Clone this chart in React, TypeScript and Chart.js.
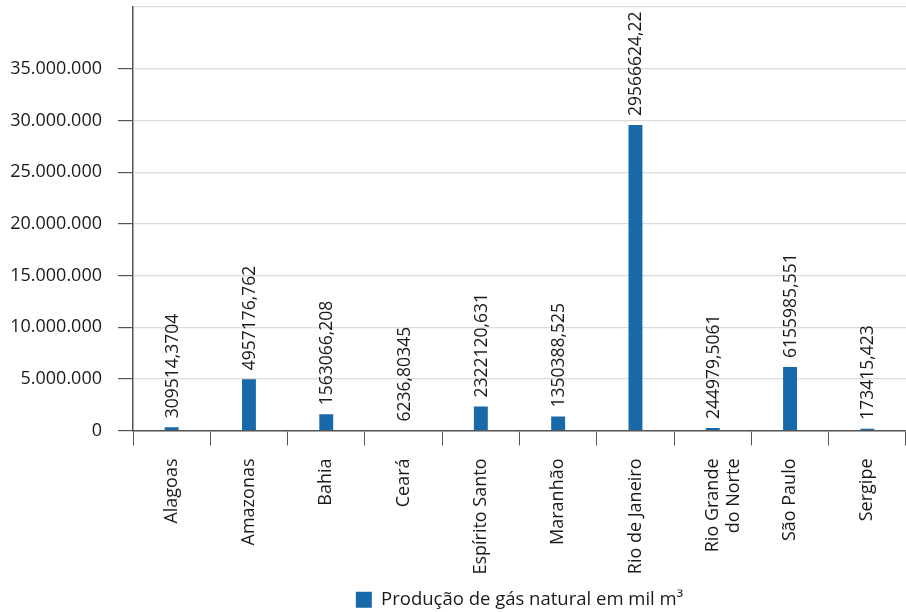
import React, { useEffect, useRef } from "react";
import { Chart, registerables } from "chart.js";

Chart.register(...registerables);

const categories: (string | string[])[] = [
  "Alagoas",
  "Amazonas",
  "Bahia",
  "Ceará",
  "Espírito Santo",
  "Maranhão",
  "Rio de Janeiro",
  ["Rio Grande", "do Norte"],
  "São Paulo",
  "Sergipe",
];

const gasValues: number[] = [
  309514.3704, 4957176.762, 1563066.208, 6236.80345, 2322120.631,
  1350388.525, 29566624.22, 244979.5061, 6155985.551, 173415.423,
];

const valueLabels: string[] = [
  "309514,3704", "4957176,762", "1563066,208", "6236,80345", "2322120,631",
  "1350388,525", "29566624,22", "244979,5061", "6155985,551", "173415,423",
];

const yTickValues: number[] = [0, 5000000, 10000000, 15000000, 20000000, 25000000, 30000000, 35000000];
const yMax = 41000000;

const seriesName = "Produção de gás natural em mil m³";

const FONT = "'Open Sans', 'Noto Sans', sans-serif";
const TEXT = "#1a1a1a";
const BAR = "#1769aa";

const formatThousands = (v: number) =>
  Math.round(v).toString().replace(/\B(?=(\d{3})+(?!\d))/g, ".");

const valueLabelPlugin = {
  id: "valueLabels",
  afterDatasetsDraw(chart: any) {
    const ctx = chart.ctx;
    const meta = chart.getDatasetMeta(0);
    ctx.save();
    ctx.font = `17.5px ${FONT}`;
    ctx.fillStyle = TEXT;
    ctx.textAlign = "left";
    ctx.textBaseline = "middle";
    meta.data.forEach((bar: any, i: number) => {
      ctx.save();
      ctx.translate(bar.x, bar.y - 9);
      ctx.rotate(-Math.PI / 2);
      ctx.fillText(valueLabels[i], 0, 1);
      ctx.restore();
    });
    ctx.restore();
  },
};

export default function App() {
  const ref = useRef<HTMLCanvasElement>(null);

  useEffect(() => {
    if (!ref.current) return;
    const chart = new Chart(ref.current, {
      type: "bar",
      data: {
        labels: categories,
        datasets: [
          {
            label: seriesName,
            data: gasValues,
            backgroundColor: BAR,
            borderWidth: 0,
            barPercentage: 0.18,
            categoryPercentage: 1,
          },
        ],
      },
      options: {
        responsive: false,
        animation: false,
        layout: { padding: { top: 7, right: 0, left: 0, bottom: -7 } },
        plugins: {
          tooltip: { enabled: false },
          legend: {
            position: "bottom",
            fullSize: false,
            labels: {
              font: { family: FONT, size: 18.5 },
              color: TEXT,
              boxWidth: 16,
              boxHeight: 16,
              padding: 1,
            },
          },
        },
        scales: {
          x: {
            grid: {
              offset: true,
              drawOnChartArea: false,
              drawTicks: true,
              tickLength: 15,
              tickColor: "#555",
            },
            border: { color: "#555", width: 1.5 },
            ticks: {
              minRotation: 90,
              maxRotation: 90,
              padding: 13,
              color: TEXT,
              font: { family: FONT, size: 18 },
              autoSkip: false,
            },
            afterFit(scale: any) {
              scale.height = 159;
              scale.paddingLeft = 0;
              scale.paddingRight = 0;
            },
          },
          y: {
            min: 0,
            max: yMax,
            afterBuildTicks(scale: any) {
              scale.ticks = [...yTickValues, yMax].map((v) => ({ value: v }));
            },
            afterFit(scale: any) {
              scale.width = 133;
              scale.paddingTop = 0;
              scale.paddingBottom = 0;
            },
            grid: {
              color: "#dcdcdc",
              lineWidth: 1.2,
              tickLength: 15,
              tickColor: (c: any) => (c.tick && c.tick.value === yMax ? "rgba(0,0,0,0)" : "#555"),
            },
            border: { color: "#555", width: 1.5 },
            ticks: {
              padding: 16,
              color: TEXT,
              font: { family: FONT, size: 18 },
              callback: (v: any) => (v === yMax ? "" : formatThousands(Number(v))),
            },
          },
        },
      },
      plugins: [valueLabelPlugin],
    });
    return () => chart.destroy();
  }, []);

  return (
    <div style={{ position: "absolute", left: 0, top: 0, width: 906, height: 612, background: "#fff" }}>
      <canvas ref={ref} width={906} height={612} />
    </div>
  );
}
